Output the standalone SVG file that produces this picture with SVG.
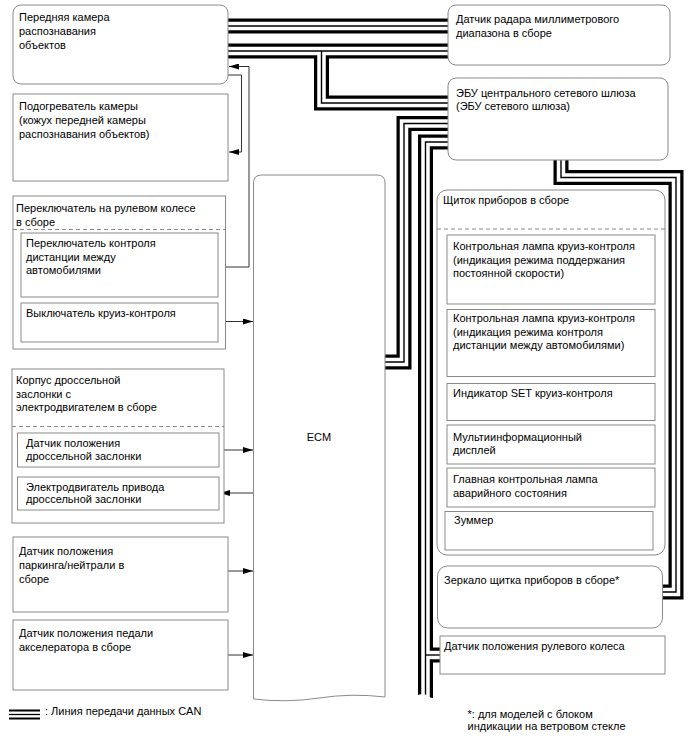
<svg xmlns="http://www.w3.org/2000/svg" width="688" height="755" viewBox="0 0 688 755">
<style>
.box{fill:#fff;stroke:#8a8a8a;stroke-width:1}
.dash{fill:none;stroke:#8a8a8a;stroke-width:1;stroke-dasharray:4 3}
text{font-family:"Liberation Sans",Arial,sans-serif;font-size:11px;fill:#000}
.wire{fill:none;stroke:#333;stroke-width:1}
.bo{fill:none;stroke:#000;stroke-width:15}
.bw{fill:none;stroke:#fff;stroke-width:8.5}
.bc{fill:none;stroke:#000;stroke-width:1.4}
</style>
<defs>
<marker id="ar" viewBox="0 0 10 6" refX="10" refY="3" markerWidth="10" markerHeight="6" markerUnits="userSpaceOnUse" orient="auto">
<path d="M0,0 L10,3 L0,6 Z" fill="#000"/>
</marker>
<path id="bA" d="M228,26 H448"/>
<path id="bB" d="M228,51 H448"/>
<path id="bBb" d="M321.5,51 V103 H448"/>
<path id="b1" d="M448,123.5 H404 V362 H385"/>
<path id="b2" d="M448,142 H425.5 V700"/>
<path id="b2s" d="M425.5,655 H440"/>
<path id="b3" d="M561,160 V177.5 H676 V592 H662.5"/>
</defs>

<g id="connectors">
<g class="bo"><use href="#bA"/><use href="#bB"/><use href="#bBb"/><use href="#b1"/><use href="#b2"/><use href="#b2s"/><use href="#b3"/></g>
<g class="bw"><use href="#bA"/><use href="#bB"/><use href="#bBb"/><use href="#b1"/><use href="#b2"/><use href="#b2s"/><use href="#b3"/></g>
<g class="bc"><use href="#bA"/><use href="#bB"/><use href="#bBb"/><use href="#b1"/><use href="#b2"/><use href="#b2s"/><use href="#b3"/></g>
<path d="M416,696 Q423,692 428,696 T436,696 V705 H416 Z" fill="#fff"/>
<path class="wire" d="M218,267 H249 V66.5 H229" marker-end="url(#ar)"/>
<path class="wire" d="M228,75 H241.5 V152 H229" marker-end="url(#ar)"/>
<path class="wire" d="M218,321.5 H253" marker-end="url(#ar)"/>
<path class="wire" d="M219,450 H253" marker-end="url(#ar)"/>
<path class="wire" d="M253,493 H220" marker-end="url(#ar)"/>
<path class="wire" d="M228,571 H253" marker-end="url(#ar)"/>
<path class="wire" d="M228,655 H253" marker-end="url(#ar)"/>
</g>

<g id="camera"><rect class="box" x="13" y="5" width="215" height="79" rx="8"/>
<text x="19" y="21">Передняя камера</text><text x="19" y="35">распознавания</text><text x="19" y="49">объектов</text></g>

<g id="heater"><rect class="box" x="13" y="94" width="215" height="87"/>
<text x="19" y="110">Подогреватель камеры</text><text x="19" y="124">(кожух передней камеры</text><text x="19" y="138">распознавания объектов)</text></g>

<g id="steering-switch"><rect class="box" x="13" y="196" width="212.5" height="153"/>
<text x="16" y="212">Переключатель на рулевом колесе</text><text x="16" y="226">в сборе</text>
<line class="dash" x1="13" y1="229.5" x2="225.5" y2="229.5"/>
<g id="distance-switch"><rect class="box" x="21" y="233" width="197" height="64"/>
<text x="26" y="247">Переключатель контроля</text><text x="26" y="260.5">дистанции между</text><text x="26" y="274">автомобилями</text></g>
<g id="cruise-switch"><rect class="box" x="21" y="303" width="197" height="39"/>
<text x="26" y="316.5">Выключатель круиз-контроля</text></g></g>

<g id="throttle"><rect class="box" x="12" y="369" width="212" height="154"/>
<text x="16" y="384">Корпус дроссельной</text><text x="16" y="397.5">заслонки с</text><text x="16" y="411">электродвигателем в сборе</text>
<line class="dash" x1="12" y1="426.5" x2="224" y2="426.5"/>
<g id="throttle-sensor"><rect class="box" x="17.5" y="433" width="201.5" height="34"/>
<text x="26" y="447">Датчик положения</text><text x="26" y="460">дроссельной заслонки</text></g>
<g id="throttle-motor"><rect class="box" x="17.5" y="477" width="201.5" height="33"/>
<text x="26" y="490.5">Электродвигатель привода</text><text x="26" y="503">дроссельной заслонки</text></g></g>

<g id="park-neutral"><rect class="box" x="13" y="537" width="215" height="75"/>
<text x="19" y="555">Датчик положения</text><text x="19" y="569">паркинга/нейтрали в</text><text x="19" y="583">сборе</text></g>

<g id="accel"><rect class="box" x="13" y="620" width="215" height="70"/>
<text x="19" y="637">Датчик положения педали</text><text x="19" y="651">акселератора в сборе</text></g>

<g id="ecm"><path class="box" d="M253.5,699 V183 Q253.5,175 261.5,175 H377 Q385,175 385,183 V697 Q352,693 319,698 T253.5,699 Z"/>
<text x="319" y="441" text-anchor="middle">ECM</text></g>

<g id="radar"><rect class="box" x="448" y="5" width="222" height="60" rx="8"/>
<text x="456" y="23">Датчик радара миллиметрового</text><text x="456" y="37">диапазона в сборе</text></g>

<g id="gateway"><rect class="box" x="448" y="78" width="220" height="82" rx="8"/>
<text x="456" y="97">ЭБУ центрального сетевого шлюза</text><text x="456" y="110">(ЭБУ сетевого шлюза)</text></g>

<g id="cluster"><rect class="box" x="437" y="190" width="228" height="365" rx="10"/>
<text x="443" y="204">Щиток приборов в сборе</text>
<line class="dash" x1="437" y1="229" x2="665" y2="229"/>
<g id="lamp1"><rect class="box" x="447" y="235" width="208" height="69"/>
<text x="453" y="250">Контрольная лампа круиз-контроля</text><text x="453" y="263.5">(индикация режима поддержания</text><text x="453" y="277">постоянной скорости)</text></g>
<g id="lamp2"><rect class="box" x="447" y="309.5" width="208" height="67"/>
<text x="453" y="322">Контрольная лампа круиз-контроля</text><text x="453" y="335.5">(индикация режима контроля</text><text x="453" y="349">дистанции между автомобилями)</text></g>
<g id="set-ind"><rect class="box" x="447" y="383.5" width="208" height="37"/>
<text x="453" y="396.5">Индикатор SET круиз-контроля</text></g>
<g id="mid"><rect class="box" x="447" y="425" width="208" height="39"/>
<text x="453" y="440.5">Мультиинформационный</text><text x="453" y="454">дисплей</text></g>
<g id="master"><rect class="box" x="447" y="468" width="208" height="39"/>
<text x="453" y="483">Главная контрольная лампа</text><text x="453" y="496.5">аварийного состояния</text></g>
<g id="buzzer"><rect class="box" x="445" y="511.5" width="208" height="38.5"/>
<text x="454" y="524">Зуммер</text></g></g>

<g id="mirror"><rect class="box" x="437.5" y="566" width="225" height="62" rx="10"/>
<text x="444" y="584">Зеркало щитка приборов в сборе*</text></g>

<g id="steer-sensor"><rect class="box" x="440" y="636" width="225" height="38"/>
<text x="444" y="650">Датчик положения рулевого колеса</text></g>

<g id="legend">
<path d="M9,714.5 H40" fill="none" stroke="#000" stroke-width="10"/>
<path d="M9,714.5 H40" fill="none" stroke="#fff" stroke-width="6"/>
<path d="M9,714.5 H40" fill="none" stroke="#000" stroke-width="1.3"/>
<text x="45" y="715">: Линия передачи данных CAN</text>
<text x="467.5" y="718">*: для моделей с блоком</text><text x="467.5" y="730">индикации на ветровом стекле</text>
</g>
</svg>
